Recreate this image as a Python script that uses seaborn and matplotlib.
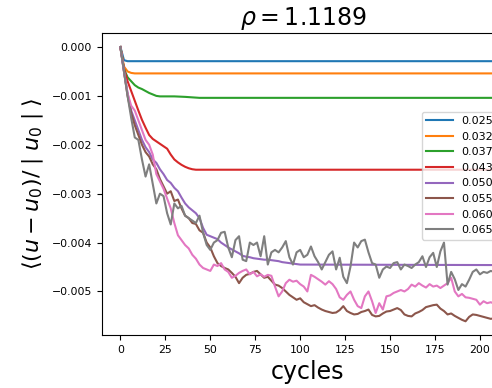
import matplotlib
matplotlib.use("Agg")
import matplotlib.pyplot as plt
import seaborn as sns
import pandas as pd

# values are in units of 1e-3
SCALE = 1e-3

labels = ["0.025", "0.032", "0.037", "0.043", "0.050", "0.055", "0.060", "0.065"]

x_025 = [0, 2, 4, 208]
y_025 = [0.0, -0.27, -0.29, -0.29]

x_032 = [0, 2, 4, 6, 8, 208]
y_032 = [0.0, -0.40, -0.50, -0.53, -0.54, -0.54]

x_037 = [0, 2, 4, 6, 8, 10, 12, 14, 16, 18, 20, 22, 26, 30, 36, 40, 44, 50, 208]
y_037 = [0.0, -0.45, -0.62, -0.70, -0.78, -0.83, -0.86, -0.90, -0.94, -0.97,
         -1.00, -1.01, -1.01, -1.01, -1.02, -1.03, -1.04, -1.04, -1.04]

x_043 = [0, 2, 4, 6, 8, 10, 12, 14, 16, 18, 20, 22, 24, 26, 28, 30, 32, 34, 36,
         38, 40, 42, 208]
y_043 = [0.0, -0.45, -0.70, -0.90, -1.10, -1.30, -1.49, -1.65, -1.80, -1.88,
         -1.93, -1.98, -2.03, -2.08, -2.20, -2.30, -2.36, -2.41, -2.45, -2.48,
         -2.50, -2.51, -2.51]

x_050 = list(range(0, 101, 2)) + [208]
y_050 = [0.0, -0.5, -0.95, -1.3, -1.5, -1.7, -1.9, -2.05, -2.15, -2.3, -2.37, -2.5, -2.6, -2.72, -2.78,
         -2.88, -2.95, -3.08, -3.2, -3.28, -3.34, -3.4, -3.5, -3.7, -3.84, -3.87, -3.9, -3.93, -4.0, -4.05,
         -4.1, -4.14, -4.18, -4.22, -4.27, -4.29, -4.3, -4.32, -4.33, -4.34, -4.35, -4.35, -4.36, -4.37, -4.38,
         -4.4, -4.41, -4.42, -4.43, -4.44, -4.45,
         -4.46]

x_noisy = list(range(0, 209, 2))

y_055 = [0.0, -0.5, -1.0, -1.35, -1.6, -1.8, -2.0, -2.15, -2.24, -2.4, -2.5, -2.7, -2.85, -3.0, -2.95,
         -3.15, -3.12, -3.3, -3.45, -3.5, -3.6, -3.62, -3.75, -3.8, -4.0, -4.1, -4.28, -4.42, -4.48, -4.52,
         -4.55, -4.62, -4.7, -4.83, -4.72, -4.66, -4.64, -4.6, -4.58, -4.65, -4.72, -4.7, -4.78, -4.86, -4.88,
         -4.93, -5.0, -5.07, -5.12, -5.17, -5.14, -5.22, -5.26, -5.3, -5.28, -5.33, -5.37, -5.4, -5.42, -5.44,
         -5.43, -5.38, -5.3, -5.4, -5.44, -5.47, -5.46, -5.42, -5.4, -5.37, -5.48, -5.51, -5.5, -5.45, -5.41,
         -5.4, -5.37, -5.34, -5.38, -5.47, -5.5, -5.51, -5.45, -5.42, -5.38, -5.32, -5.3, -5.28, -5.27, -5.35,
         -5.4, -5.47, -5.45, -5.5, -5.54, -5.58, -5.61, -5.52, -5.47, -5.48, -5.5, -5.52, -5.54, -5.56, -5.55]

y_060 = [0.0, -0.5, -0.95, -1.2, -1.3, -1.5, -1.7, -1.9, -2.0, -2.2, -2.6, -2.75, -2.9, -3.1, -3.3,
         -3.6, -3.85, -3.95, -4.05, -4.12, -4.25, -4.33, -4.45, -4.52, -4.55, -4.58, -4.45, -4.48, -4.42, -4.55,
         -4.6, -4.72, -4.68, -4.62, -4.58, -4.55, -4.65, -4.6, -4.69, -4.65, -4.7, -4.66, -4.68, -4.9, -5.1,
         -5.0, -4.83, -4.76, -4.8, -4.78, -4.85, -4.9, -5.0, -4.66, -4.7, -4.75, -4.8, -4.86, -4.79, -4.85,
         -4.95, -5.12, -5.17, -5.07, -5.0, -5.17, -5.3, -5.34, -5.1, -5.0, -5.2, -5.44, -5.24, -5.37, -5.1,
         -5.08, -5.03, -5.0, -4.97, -5.0, -4.95, -4.86, -4.9, -4.83, -4.88, -4.92, -4.85, -4.9, -4.88, -4.93,
         -4.88, -4.83, -4.72, -5.0, -5.1, -5.05, -5.12, -5.13, -5.15, -5.17, -5.27, -5.2, -5.24, -5.22, -5.25]

y_065 = [0.0, -0.5, -1.0, -1.45, -1.85, -1.9, -2.3, -2.65, -2.4, -2.8, -3.2, -3.0, -3.05, -3.4, -3.63,
         -3.2, -3.3, -3.25, -3.45, -3.5, -3.55, -3.6, -3.45, -3.8, -4.05, -4.15, -4.0, -3.95, -3.8, -3.78,
         -4.1, -4.3, -3.95, -3.87, -4.35, -4.38, -4.0, -4.05, -4.0, -4.28, -3.87, -4.45, -4.2, -4.15, -4.2,
         -4.1, -3.97, -4.3, -4.45, -4.2, -4.15, -4.3, -4.25, -4.08, -4.28, -4.4, -4.55, -4.4, -4.25, -4.18,
         -4.55, -4.31, -4.7, -4.83, -4.49, -4.0, -4.1, -3.97, -3.94, -4.2, -4.42, -4.45, -4.72, -4.55, -4.49,
         -4.52, -4.42, -4.4, -4.55, -4.45, -4.48, -4.52, -4.45, -4.4, -4.28, -4.5, -4.3, -4.21, -4.5, -4.18,
         -4.0, -4.86, -4.6, -4.75, -4.97, -4.85, -4.9, -4.76, -4.6, -4.55, -4.65, -4.6, -4.62, -4.58, -4.6]

series = [
    (labels[0], x_025, y_025),
    (labels[1], x_032, y_032),
    (labels[2], x_037, y_037),
    (labels[3], x_043, y_043),
    (labels[4], x_050, y_050),
    (labels[5], x_noisy, y_055),
    (labels[6], x_noisy, y_060),
    (labels[7], x_noisy, y_065),
]

rows = []
for lab, xs, ys in series:
    for xv, yv in zip(xs, ys):
        rows.append({"cycles": xv, "value": yv * SCALE, "k": lab})
df = pd.DataFrame(rows)

fig = plt.figure(figsize=(4.92, 3.88), dpi=100)
ax = fig.add_axes([0.2067, 0.1366, 0.836, 0.7776])

sns.lineplot(data=df, x="cycles", y="value", hue="k", hue_order=labels,
             palette="tab10", linewidth=1.5, ax=ax, estimator=None, sort=True)

ax.set_xticks([0, 25, 50, 75, 100, 125, 150, 175, 200])
ax.tick_params(labelsize=7.8)
ax.set_title(r"$\rho = 1.1189$", fontsize=17, x=0.49)
ax.set_xlabel("cycles", fontsize=17)
ax.set_ylabel(r"$\langle (u-u_0)/\mid u_0 \mid \rangle$", fontsize=16)

handles, labs = ax.get_legend_handles_labels()
ax.legend(handles, labs, loc="upper left", bbox_to_anchor=(0.778, 0.740),
          borderaxespad=0, fontsize=8, handlelength=2.4)

fig.savefig("out.png", dpi=100)
